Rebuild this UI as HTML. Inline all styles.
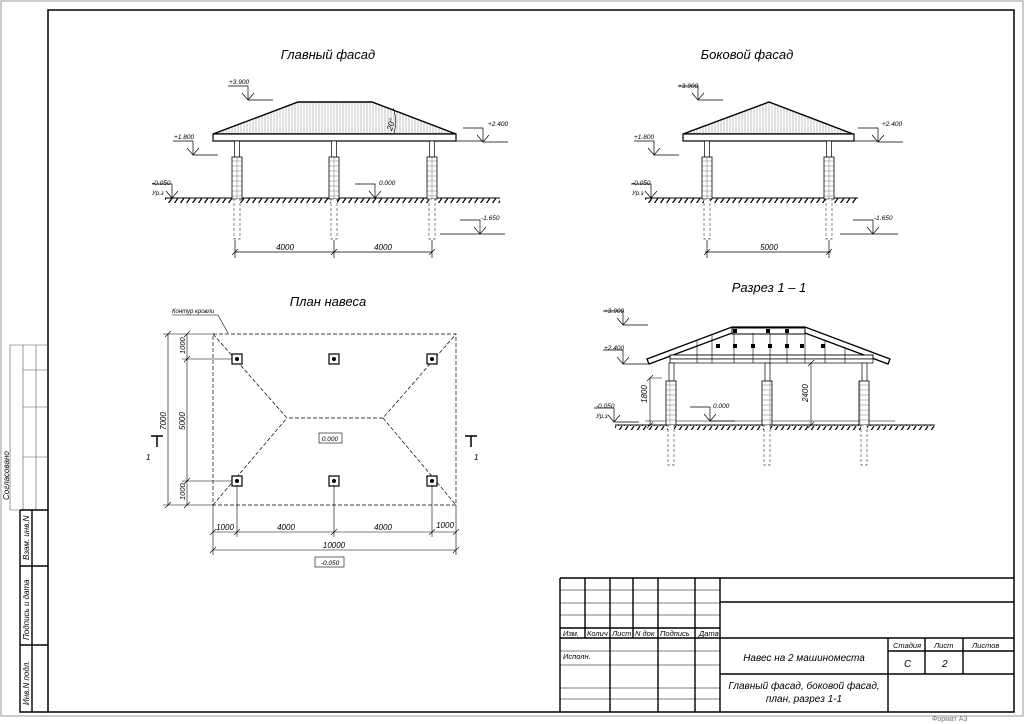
<!DOCTYPE html>
<html><head><meta charset="utf-8"><style>
html,body{margin:0;padding:0;background:#fff}
svg{display:block}
text{font-family:"Liberation Sans","DejaVu Sans",sans-serif;font-style:italic;fill:#000}
</style></head><body>
<svg width="1024" height="724" viewBox="0 0 1024 724" xmlns="http://www.w3.org/2000/svg">
<defs>
<pattern id="vh" width="3" height="10" patternUnits="userSpaceOnUse"><line x1="1" y1="0" x2="1" y2="10" stroke="#999" stroke-width="0.6"/></pattern>
<pattern id="gh" width="6" height="6" patternUnits="userSpaceOnUse"><line x1="0" y1="6" x2="4" y2="0" stroke="#000" stroke-width="1.2"/></pattern>
<pattern id="br" width="10" height="5" patternUnits="userSpaceOnUse"><rect width="10" height="5" fill="#fff" stroke="#777" stroke-width="0.5"/></pattern>
<g id="col">
 <rect x="-2.5" y="0" width="5" height="17" fill="#fff" stroke="#000" stroke-width="0.7"/>
 <rect x="-5" y="16" width="10" height="42" fill="url(#br)" stroke="#000" stroke-width="0.8"/>
 <rect x="-3" y="58" width="6" height="40" fill="#fff" stroke="#555" stroke-width="0.7" stroke-dasharray="3,2"/>
</g>
<g id="lvl" stroke="#000" stroke-width="0.7" fill="none">
 <path d="M-6,-7 L0,0 L6,-7 M0,0 V-14 H-20 M0,0 H25"/>
</g>
<g id="pc"><rect x="-5" y="-5" width="10" height="10" fill="#fff" stroke="#000" stroke-width="1.2"/><circle r="2" fill="#000"/></g>
</defs>

<!-- frames -->
<rect x="1" y="1" width="1022" height="715" fill="none" stroke="#999" stroke-width="1"/>
<rect x="48" y="10" width="966" height="702" fill="none" stroke="#000" stroke-width="1.5"/>
<text x="932" y="721" font-size="7" fill="#777" style="font-style:normal;fill:#777">Формат А3</text>

<!-- left strip -->
<g stroke="#555" stroke-width="0.6" fill="none">
<path d="M10,345 V510 M23,345 V510 M36,345 V510 M10,345 H48 M23,370 H48 M23,407 H48 M23,457 H48 M10,510 H20"/>
</g>
<g stroke="#000" stroke-width="1.4" fill="none">
<path d="M20,510 V712 H48 M20,510 H48 M32,510 V712 M20,566 H48 M20,645 H48"/>
</g>
<text transform="translate(9,500) rotate(-90)" font-size="8">Согласовано</text>
<text transform="translate(29,560) rotate(-90)" font-size="8">Взам. инв.N</text>
<text transform="translate(29,640) rotate(-90)" font-size="8">Подпись и дата</text>
<text transform="translate(29,705) rotate(-90)" font-size="8">Инв.N подл.</text>

<!-- title block -->
<g stroke="#000" stroke-width="1.4" fill="none">
<path d="M560,578 H1014 M560,578 V712 M585,578 V638 M610,578 V712 M633,578 V638 M658,578 V712 M695,578 V712 M720,578 V712 M720,602 H1014 M560,628 H720 M560,638 H1014 M888,638 V712 M925,638 V674 M963,638 V674 M888,651 H1014 M720,674 H1014"/>
</g>
<g stroke="#000" stroke-width="0.6" fill="none">
<path d="M560,590 H720 M560,603 H720 M560,615 H720 M560,651 H720 M560,665 H720 M560,688 H720 M560,699 H720"/>
</g>
<g font-size="7.5">
<text x="563" y="636">Изм.</text><text x="587" y="636">Колич</text><text x="612" y="636">Лист</text><text x="635" y="636">N док</text><text x="660" y="636">Подпись</text><text x="699" y="636">Дата</text>
<text x="563" y="659">Исполн.</text>
<text x="893" y="648">Стадия</text><text x="934" y="648">Лист</text><text x="972" y="648">Листов</text>
</g>
<text x="904" y="667" font-size="10">С</text><text x="942" y="667" font-size="10">2</text>
<text x="804" y="661" font-size="10" text-anchor="middle">Навес на 2 машиноместа</text>
<text x="804" y="689" font-size="10" text-anchor="middle">Главный фасад, боковой фасад,</text>
<text x="804" y="702" font-size="10" text-anchor="middle">план, разрез 1-1</text>

<!-- titles -->
<g font-size="13" text-anchor="middle">
<text x="328" y="59">Главный фасад</text>
<text x="747" y="59">Боковой фасад</text>
<text x="328" y="306">План навеса</text>
<text x="769" y="292">Разрез 1 – 1</text>
</g>

<!-- MAIN FACADE -->
<rect x="165" y="198" width="335" height="5" fill="url(#gh)"/>
<line x1="165" y1="198" x2="500" y2="198" stroke="#000" stroke-width="1"/>
<path d="M213,134 L298,102 L372,102 L456,134 Z" fill="url(#vh)" stroke="#000" stroke-width="1.4"/>
<rect x="213" y="134" width="243" height="7" fill="#fff" stroke="#000" stroke-width="1.2"/>
<use href="#col" x="237" y="141"/><use href="#col" x="334" y="141"/><use href="#col" x="432" y="141"/>
<text transform="translate(392,131) rotate(-75)" font-size="8">20°</text>
<path d="M393,108 Q398,120 394,133" stroke="#000" stroke-width="0.6" fill="none"/>
<g stroke="#000" stroke-width="0.7" fill="none"><path d="M235,252 H432 M235,240 V258 M334,240 V258 M432,240 V258 M232,255 L238,249 M331,255 L337,249 M429,255 L435,249"/></g>
<text x="285" y="250" font-size="8" text-anchor="middle">4000</text><text x="383" y="250" font-size="8" text-anchor="middle">4000</text>
<use href="#lvl" x="248" y="100"/><text x="229" y="84" font-size="6.5">+3.900</text>
<use href="#lvl" x="193" y="155"/><text x="174" y="139" font-size="6.5">+1.800</text>
<use href="#lvl" x="483" y="142"/><text x="488" y="126" font-size="6.5">+2.400</text>
<path d="M456,141 H483" stroke="#000" stroke-width="0.7"/>
<use href="#lvl" x="172" y="198"/><text x="152" y="185" font-size="6.5">-0.050</text><text x="152" y="195" font-size="6">Ур.з</text>
<use href="#lvl" x="375" y="198"/><text x="379" y="185" font-size="6.5">0.000</text>
<use href="#lvl" x="480" y="234"/><text x="481" y="220" font-size="6.5">-1.650</text>
<path d="M440,234 H480" stroke="#000" stroke-width="0.7"/>

<!-- SIDE FACADE -->
<rect x="645" y="198" width="213" height="5" fill="url(#gh)"/>
<line x1="645" y1="198" x2="858" y2="198" stroke="#000" stroke-width="1"/>
<path d="M683,134 L769,102 L853,134 Z" fill="url(#vh)" stroke="#000" stroke-width="1.4"/>
<rect x="683" y="134" width="171" height="7" fill="#fff" stroke="#000" stroke-width="1.2"/>
<use href="#col" x="707" y="141"/><use href="#col" x="829" y="141"/>
<g stroke="#000" stroke-width="0.7" fill="none"><path d="M705,252 H831 M707,240 V258 M829,240 V258 M704,255 L710,249 M826,255 L832,249"/></g>
<text x="769" y="250" font-size="8" text-anchor="middle">5000</text>
<use href="#lvl" x="698" y="100"/><text x="678" y="88" font-size="6.5">+3.900</text>
<use href="#lvl" x="654" y="155"/><text x="634" y="139" font-size="6.5">+1.800</text>
<use href="#lvl" x="878" y="142"/><text x="882" y="126" font-size="6.5">+2.400</text>
<path d="M854,141 H878" stroke="#000" stroke-width="0.7"/>
<use href="#lvl" x="651" y="198"/><text x="632" y="185" font-size="6.5">-0.050</text><text x="632" y="195" font-size="6">Ур.з</text>
<use href="#lvl" x="873" y="234"/><text x="874" y="220" font-size="6.5">-1.650</text>
<path d="M840,234 H873" stroke="#000" stroke-width="0.7"/>

<!-- SECTION -->
<rect x="615" y="425" width="320" height="5" fill="url(#gh)"/>
<line x1="615" y1="425" x2="935" y2="425" stroke="#000" stroke-width="1"/>
<line x1="645" y1="421" x2="895" y2="421" stroke="#000" stroke-width="0.6"/>
<g stroke="#000" fill="none">
<path d="M647,359 L732,327 L805,327 L890,359 L888,364 L805,333 L732,333 L649,364 Z" fill="#fff" stroke-width="1.3"/>
<rect x="670" y="355" width="203" height="4" fill="#fff" stroke-width="0.9"/>
<rect x="670" y="359" width="203" height="4" fill="#fff" stroke-width="0.7"/>
<rect x="732" y="328" width="73" height="6" fill="#fff" stroke-width="1"/>
<path d="M697,340 V363 M712,335 V363 M734,333 V363 M753,333 V363 M770,333 V363 M787,333 V363 M805,333 V363 M825,340 V363 M845,347 V363" stroke-width="0.6"/>
</g>
<g fill="#000"><rect x="716" y="344" width="4" height="4"/><rect x="733" y="344" width="4" height="4"/><rect x="751" y="344" width="4" height="4"/><rect x="768" y="344" width="4" height="4"/><rect x="785" y="344" width="4" height="4"/><rect x="800" y="344" width="4" height="4"/><rect x="821" y="344" width="4" height="4"/>
<rect x="733" y="329" width="4" height="4"/><rect x="766" y="329" width="4" height="4"/><rect x="785" y="329" width="4" height="4"/></g>
<g transform="translate(0,0)">
<rect x="669" y="363" width="5" height="19" fill="#fff" stroke="#000" stroke-width="0.7"/><rect x="666" y="381" width="10" height="44" fill="url(#br)" stroke="#000" stroke-width="0.8"/><rect x="668" y="425" width="6" height="40" fill="#fff" stroke="#555" stroke-width="0.7" stroke-dasharray="3,2"/>
<rect x="765" y="363" width="5" height="19" fill="#fff" stroke="#000" stroke-width="0.7"/><rect x="762" y="381" width="10" height="44" fill="url(#br)" stroke="#000" stroke-width="0.8"/><rect x="764" y="425" width="6" height="40" fill="#fff" stroke="#555" stroke-width="0.7" stroke-dasharray="3,2"/>
<rect x="862" y="363" width="5" height="19" fill="#fff" stroke="#000" stroke-width="0.7"/><rect x="859" y="381" width="10" height="44" fill="url(#br)" stroke="#000" stroke-width="0.8"/><rect x="861" y="425" width="6" height="40" fill="#fff" stroke="#555" stroke-width="0.7" stroke-dasharray="3,2"/>
</g>
<g stroke="#000" stroke-width="0.6" fill="none"><path d="M650,378 H662 M650,378 V425 M647,381 L653,375 M647,428 L653,422 M811,363 V425 M808,366 L814,360 M808,428 L814,422"/></g>
<text transform="translate(647,403) rotate(-90)" font-size="8">1800</text>
<text transform="translate(808,402) rotate(-90)" font-size="8">2400</text>
<use href="#lvl" x="623" y="325"/><text x="604" y="313" font-size="6.5">+3.900</text>
<use href="#lvl" x="623" y="364"/><text x="604" y="350" font-size="6.5">+2.400</text>
<use href="#lvl" x="614" y="422"/><text x="596" y="408" font-size="6.5">-0.050</text><text x="596" y="418" font-size="6">Ур.з</text>
<use href="#lvl" x="710" y="421"/><text x="713" y="408" font-size="6.5">0.000</text>

<!-- PLAN -->
<g stroke="#000" stroke-width="0.7" fill="none" stroke-dasharray="4,2">
<rect x="213" y="334" width="243" height="171"/>
<path d="M213,334 L287,418 L383,418 L456,334 M213,505 L287,418 M383,418 L456,505"/>
</g>
<use href="#pc" x="237" y="359"/><use href="#pc" x="334" y="359"/><use href="#pc" x="432" y="359"/>
<use href="#pc" x="237" y="481"/><use href="#pc" x="334" y="481"/><use href="#pc" x="432" y="481"/>
<rect x="319" y="433" width="23" height="10" fill="#fff" stroke="#000" stroke-width="0.6"/><text x="330" y="441" font-size="6.5" text-anchor="middle">0.000</text>
<rect x="315" y="557" width="29" height="10" fill="#fff" stroke="#000" stroke-width="0.6"/><text x="330" y="565" font-size="6.5" text-anchor="middle">-0.050</text>
<text x="172" y="313" font-size="6">Контур кровли</text>
<path d="M172,315 H218 L228,333" stroke="#000" stroke-width="0.6" fill="none"/>
<g stroke="#000" stroke-width="0.6" fill="none">
<path d="M168,334 V505 M187,334 V505 M163,334 H213 M182,359 H232 M182,481 H232 M163,505 H213 M165,337 L171,331 M165,508 L171,502 M184,337 L190,331 M184,362 L190,356 M184,484 L190,478 M184,508 L190,502"/>
<path d="M213,532 H456 M213,550 H456 M213,505 V555 M237,485 V537 M334,485 V537 M432,485 V537 M456,505 V555 M210,535 L216,529 M234,535 L240,529 M331,535 L337,529 M429,535 L435,529 M453,535 L459,529 M210,553 L216,547 M453,553 L459,547"/>
</g>
<text transform="translate(166,430) rotate(-90)" font-size="8">7000</text>
<text transform="translate(185,354) rotate(-90)" font-size="7.5">1000</text>
<text transform="translate(185,430) rotate(-90)" font-size="8">5000</text>
<text transform="translate(185,500) rotate(-90)" font-size="7.5">1000</text>
<g font-size="8" text-anchor="middle"><text x="225" y="530">1000</text><text x="286" y="530">4000</text><text x="383" y="530">4000</text><text x="445" y="528">1000</text><text x="334" y="548">10000</text></g>
<g stroke="#000" fill="none"><path d="M151,436 H163 M157,436 V447" stroke-width="1.5"/><path d="M465,436 H477 M471,436 V447" stroke-width="1.5"/></g>
<text x="146" y="460" font-size="8">1</text><text x="474" y="460" font-size="8">1</text>
</svg>
</body></html>
